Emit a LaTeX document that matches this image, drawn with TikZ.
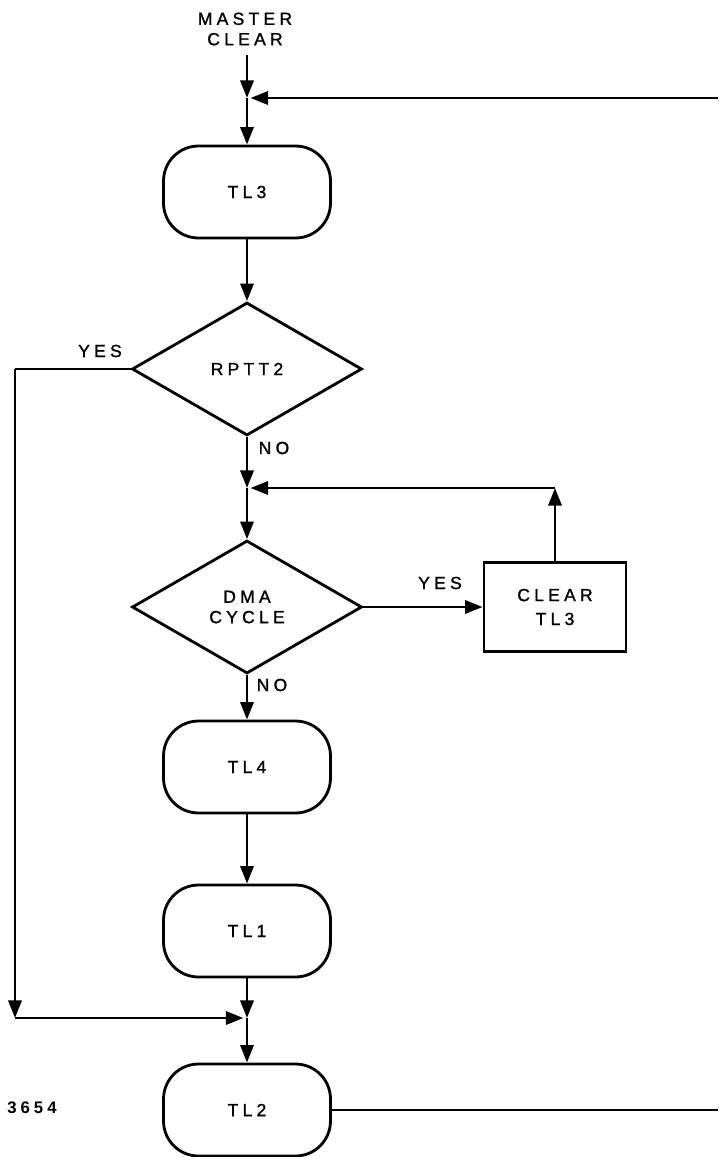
\documentclass[tikz,border=0pt]{standalone}
\usepackage{fontspec}
\newfontfamily\lettering[LetterSpace=24,FakeBold=1.2]{Liberation Sans}
\newfontfamily\figlettering[LetterSpace=24]{Liberation Sans Bold}
\usetikzlibrary{shapes.geometric,arrows.meta}

\begin{document}
\begin{tikzpicture}[%
  x=0.02cm, y=-0.02cm,
  line width=1.6pt,
  font=\lettering\fontsize{10}{11.6}\selectfont,
  flow/.style={-{Triangle[length=10pt,width=7.5pt]}},
  tstate/.style={draw, rounded corners=0.7cm, minimum width=3.34cm, minimum height=1.84cm, inner sep=0pt},
  decision/.style={draw, diamond, minimum width=4.6cm, minimum height=2.66cm, inner sep=0pt, align=center},
  action/.style={draw, rectangle, minimum width=2.84cm, minimum height=1.78cm, inner sep=0pt, align=center},
  tlabel/.style={inner sep=0pt}]
\useasboundingbox (0,0) rectangle (718,1157);

\node[tlabel, align=center] (mc) at (245,29) {MASTER\\CLEAR};
\node[tstate] (tl3) at (247,192) {TL3};
\node[decision] (rptt) at (247,369) {RPTT2};
\node[decision] (dma) at (247,607) {DMA\\CYCLE};
\node[action] (clr) at (555,607) {CLEAR\\[2pt]TL3};
\node[tstate] (tl4) at (247,767) {TL4};
\node[tstate] (tl1) at (247,931) {TL1};
\node[tstate] (tl2) at (247,1110) {TL2};

% branch labels
\node[tlabel] (yes1) at (100,351) {YES};
\node[tlabel] (no1) at (274,448) {NO};
\node[tlabel] (yes2) at (440,583) {YES};
\node[tlabel] (no2) at (272,685) {NO};
\node[tlabel, font=\figlettering\fontsize{9.5}{10}\selectfont] (fig) at (32,1108) {3654};

\coordinate (mcend) at (247,55);
\coordinate (jtop) at (247,98);
\coordinate (etop) at (718,98);
\coordinate (jmid) at (247,488);
\coordinate (cup) at (clr.north |- jmid);
\coordinate (lyes) at (15,369);
\coordinate (lbot) at (15,1018);
\coordinate (jbot) at (247,1018);
\coordinate (ebot) at (718,1110);

\draw[flow] (mcend) -- (jtop);
\draw[flow] (etop) -- ([xshift=2pt]jtop);
\draw[flow] (jtop) -- (tl3);
\draw[flow] (tl3) -- (rptt);
\draw (rptt.west) -- (lyes);
\draw[flow] (lyes) -- (lbot);
\draw[flow] (lbot) -- ([xshift=-2pt]jbot);
\draw[flow] (rptt) -- (jmid);
\draw[flow] (clr.north) -- (cup);
\draw[flow] (cup) -- ([xshift=2pt]jmid);
\draw[flow] (jmid) -- (dma);
\draw[flow] (dma) -- (clr);
\draw[flow] (dma) -- (tl4);
\draw[flow] (tl4) -- (tl1);
\draw[flow] (tl1) -- (jbot);
\draw[flow] (jbot) -- (tl2);
\draw (tl2) -- (ebot);
\end{tikzpicture}
\end{document}
